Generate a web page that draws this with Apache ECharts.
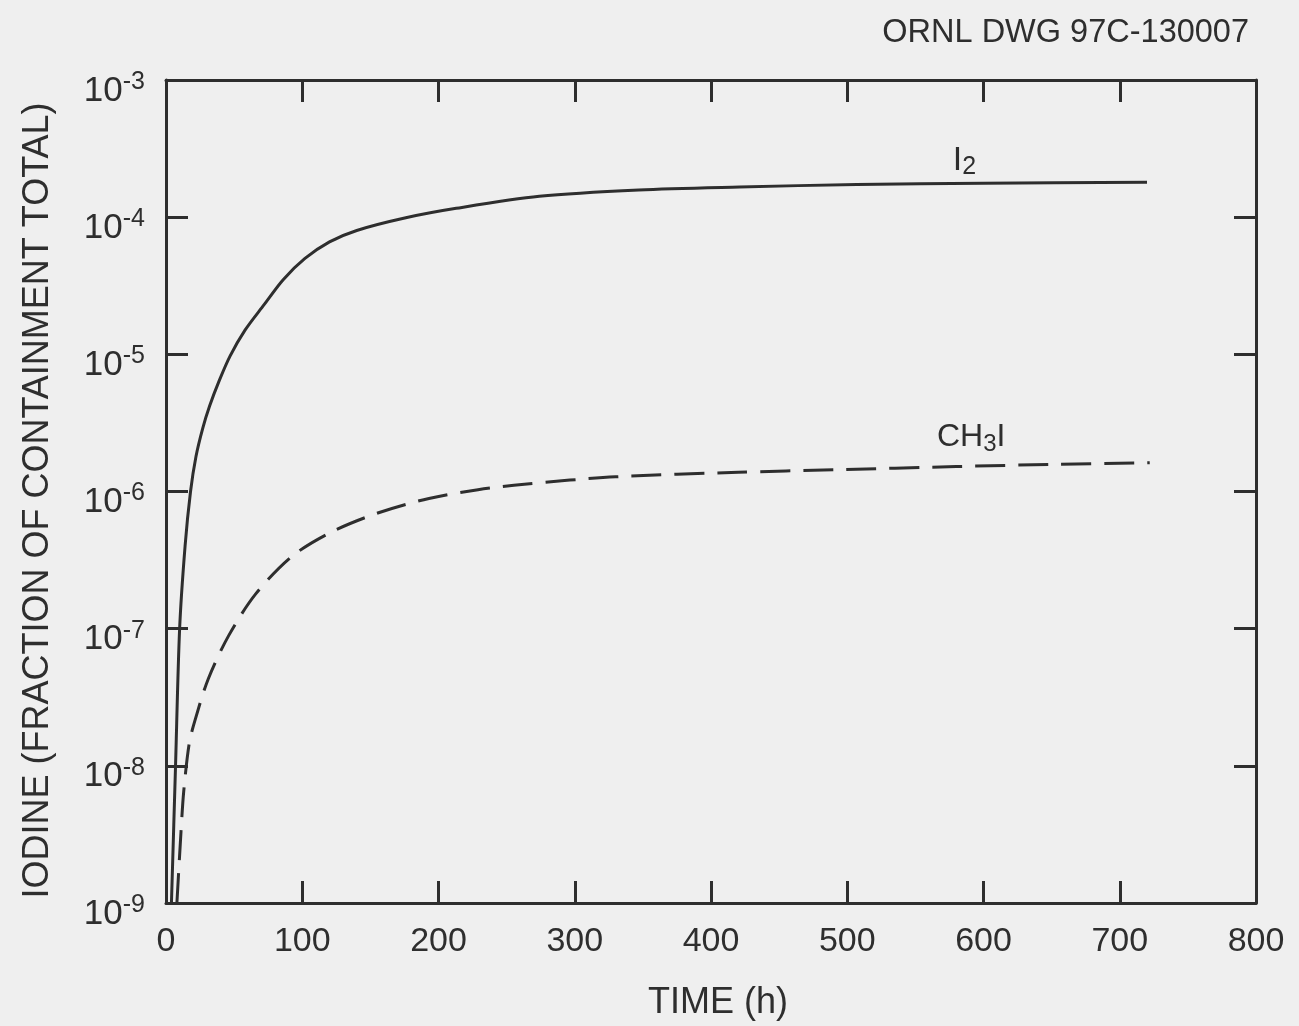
<!DOCTYPE html>
<html>
<head>
<meta charset="utf-8">
<script src="https://cdn.jsdelivr.net/npm/echarts@6/dist/echarts.min.js"></script>
<style>
html,body{margin:0;padding:0;background:#efefef;}
#c{width:1299px;height:1026px;}
</style>
</head>
<body>
<div id="c"></div>
<script>
// ---- data ----
const xTicks = [0, 100, 200, 300, 400, 500, 600, 700, 800];
const yExponents = [-9, -8, -7, -6, -5, -4, -3];

const i2Time = [4, 7, 10, 14, 18, 22, 27, 32, 39, 47, 58, 72, 86, 102, 120, 140, 176, 213, 274, 347, 421, 507, 600, 720];
const i2Value = [1e-9, 1e-8, 1e-7, 4e-7, 1e-6, 1.8e-6, 2.9e-6, 4.2e-6, 6.4e-6, 9.7e-6, 1.5e-5, 2.3e-5, 3.5e-5, 5.0e-5, 6.6e-5, 8.0e-5, 9.9e-5, 1.16e-4, 1.42e-4, 1.58e-4, 1.66e-4, 1.73e-4, 1.77e-4, 1.8e-4];

const ch3iTime = [8, 11, 13, 17, 21, 31, 46, 66, 93, 122, 156, 193, 229, 263, 330, 420, 490, 580, 656, 722];
const ch3iValue = [1e-9, 3.3e-9, 6.5e-9, 1.45e-8, 2.1e-8, 4.3e-8, 8.9e-8, 1.8e-7, 3.4e-7, 5.1e-7, 7e-7, 8.9e-7, 1.03e-6, 1.13e-6, 1.28e-6, 1.38e-6, 1.44e-6, 1.52e-6, 1.58e-6, 1.62e-6];

const i2LabelAt = [586, 2.6e-4];
const ch3iLabelAt = [591, 2.5e-6];

// ---- chart ----
const ink = '#2e2e2e';
const font = 'Liberation Sans, Arial, sans-serif';
const chart = echarts.init(document.getElementById('c'));

const pairs = (xs, ys) => xs.map((x, i) => [x, ys[i]]);

const xCommon = {
  type: 'value', min: xTicks[0], max: xTicks[xTicks.length - 1], interval: 100,
  axisLine: { show: true, onZero: false, lineStyle: { color: ink, width: 3 } },
  axisTick: { show: true, inside: true, length: 22, lineStyle: { color: ink, width: 3 } },
  splitLine: { show: false }
};
const yCommon = {
  type: 'log', logBase: 10, min: Math.pow(10, yExponents[0]), max: Math.pow(10, yExponents[yExponents.length - 1]),
  axisLine: { show: true, onZero: false, lineStyle: { color: ink, width: 3 } },
  axisTick: { show: true, inside: true, length: 22, lineStyle: { color: ink, width: 3 } },
  splitLine: { show: false },
  minorTick: { show: false }
};

chart.setOption({
  backgroundColor: '#efefef',
  animation: false,
  textStyle: { fontFamily: font, color: ink },
  title: {
    text: 'ORNL DWG 97C-130007',
    right: 45, top: 12,
    textStyle: { fontFamily: font, fontSize: 32.5, fontWeight: 'normal', color: ink }
  },
  grid: { left: 166, right: 43, top: 80, bottom: 120 },
  xAxis: [
    Object.assign({}, xCommon, {
      position: 'bottom',
      name: 'TIME (h)', nameLocation: 'middle', nameGap: 82,
      nameTextStyle: { fontFamily: font, fontSize: 36, color: ink, padding: [0, 0, 0, 14] },
      axisLabel: { show: true, fontFamily: font, fontSize: 34, color: ink, margin: 22 }
    }),
    Object.assign({}, xCommon, { position: 'top', axisLabel: { show: false } })
  ],
  yAxis: [
    Object.assign({}, yCommon, {
      position: 'left',
      name: 'IODINE (FRACTION OF CONTAINMENT TOTAL)', nameLocation: 'middle', nameGap: 110,
      nameTextStyle: { fontFamily: font, fontSize: 36, color: ink, padding: [0, 18, 0, 0] },
      axisLabel: {
        show: true, margin: 21, padding: [12, 0, 0, 0],
        formatter: v => '{b|10}{s|' + Math.round(Math.log10(v)) + '}',
        rich: {
          b: { fontFamily: font, fontSize: 35, color: ink, padding: [10, 0, 0, 0] },
          s: { fontFamily: font, fontSize: 25, color: ink, padding: [0, 0, 8, 0] }
        }
      }
    }),
    Object.assign({}, yCommon, { position: 'right', axisLabel: { show: false } })
  ],
  series: [
    {
      name: 'I2', type: 'line', xAxisIndex: 0, yAxisIndex: 0,
      data: pairs(i2Time, i2Value),
      showSymbol: false, smooth: 0.3,
      lineStyle: { color: ink, width: 3 },
      markPoint: {
        symbol: 'circle', symbolSize: 0,
        data: [{ coord: i2LabelAt, value: 'I2' }],
        label: {
          show: true, position: 'inside',
          formatter: '{m|I}{sub|2}',
          rich: {
            m: { fontFamily: font, fontSize: 34, color: ink },
            sub: { fontFamily: font, fontSize: 25, color: ink, padding: [14, 0, 0, 0] }
          }
        }
      }
    },
    {
      name: 'CH3I', type: 'line', xAxisIndex: 0, yAxisIndex: 0,
      data: pairs(ch3iTime, ch3iValue),
      showSymbol: false, smooth: 0.3,
      lineStyle: { color: ink, width: 3, type: [30, 13] },
      markPoint: {
        symbol: 'circle', symbolSize: 0,
        data: [{ coord: ch3iLabelAt, value: 'CH3I' }],
        label: {
          show: true, position: 'inside',
          formatter: '{m|CH}{sub|3}{m|I}',
          rich: {
            m: { fontFamily: font, fontSize: 32, color: ink },
            sub: { fontFamily: font, fontSize: 24, color: ink, padding: [14, 0, 0, 0] }
          }
        }
      }
    }
  ]
});
</script>
</body>
</html>
